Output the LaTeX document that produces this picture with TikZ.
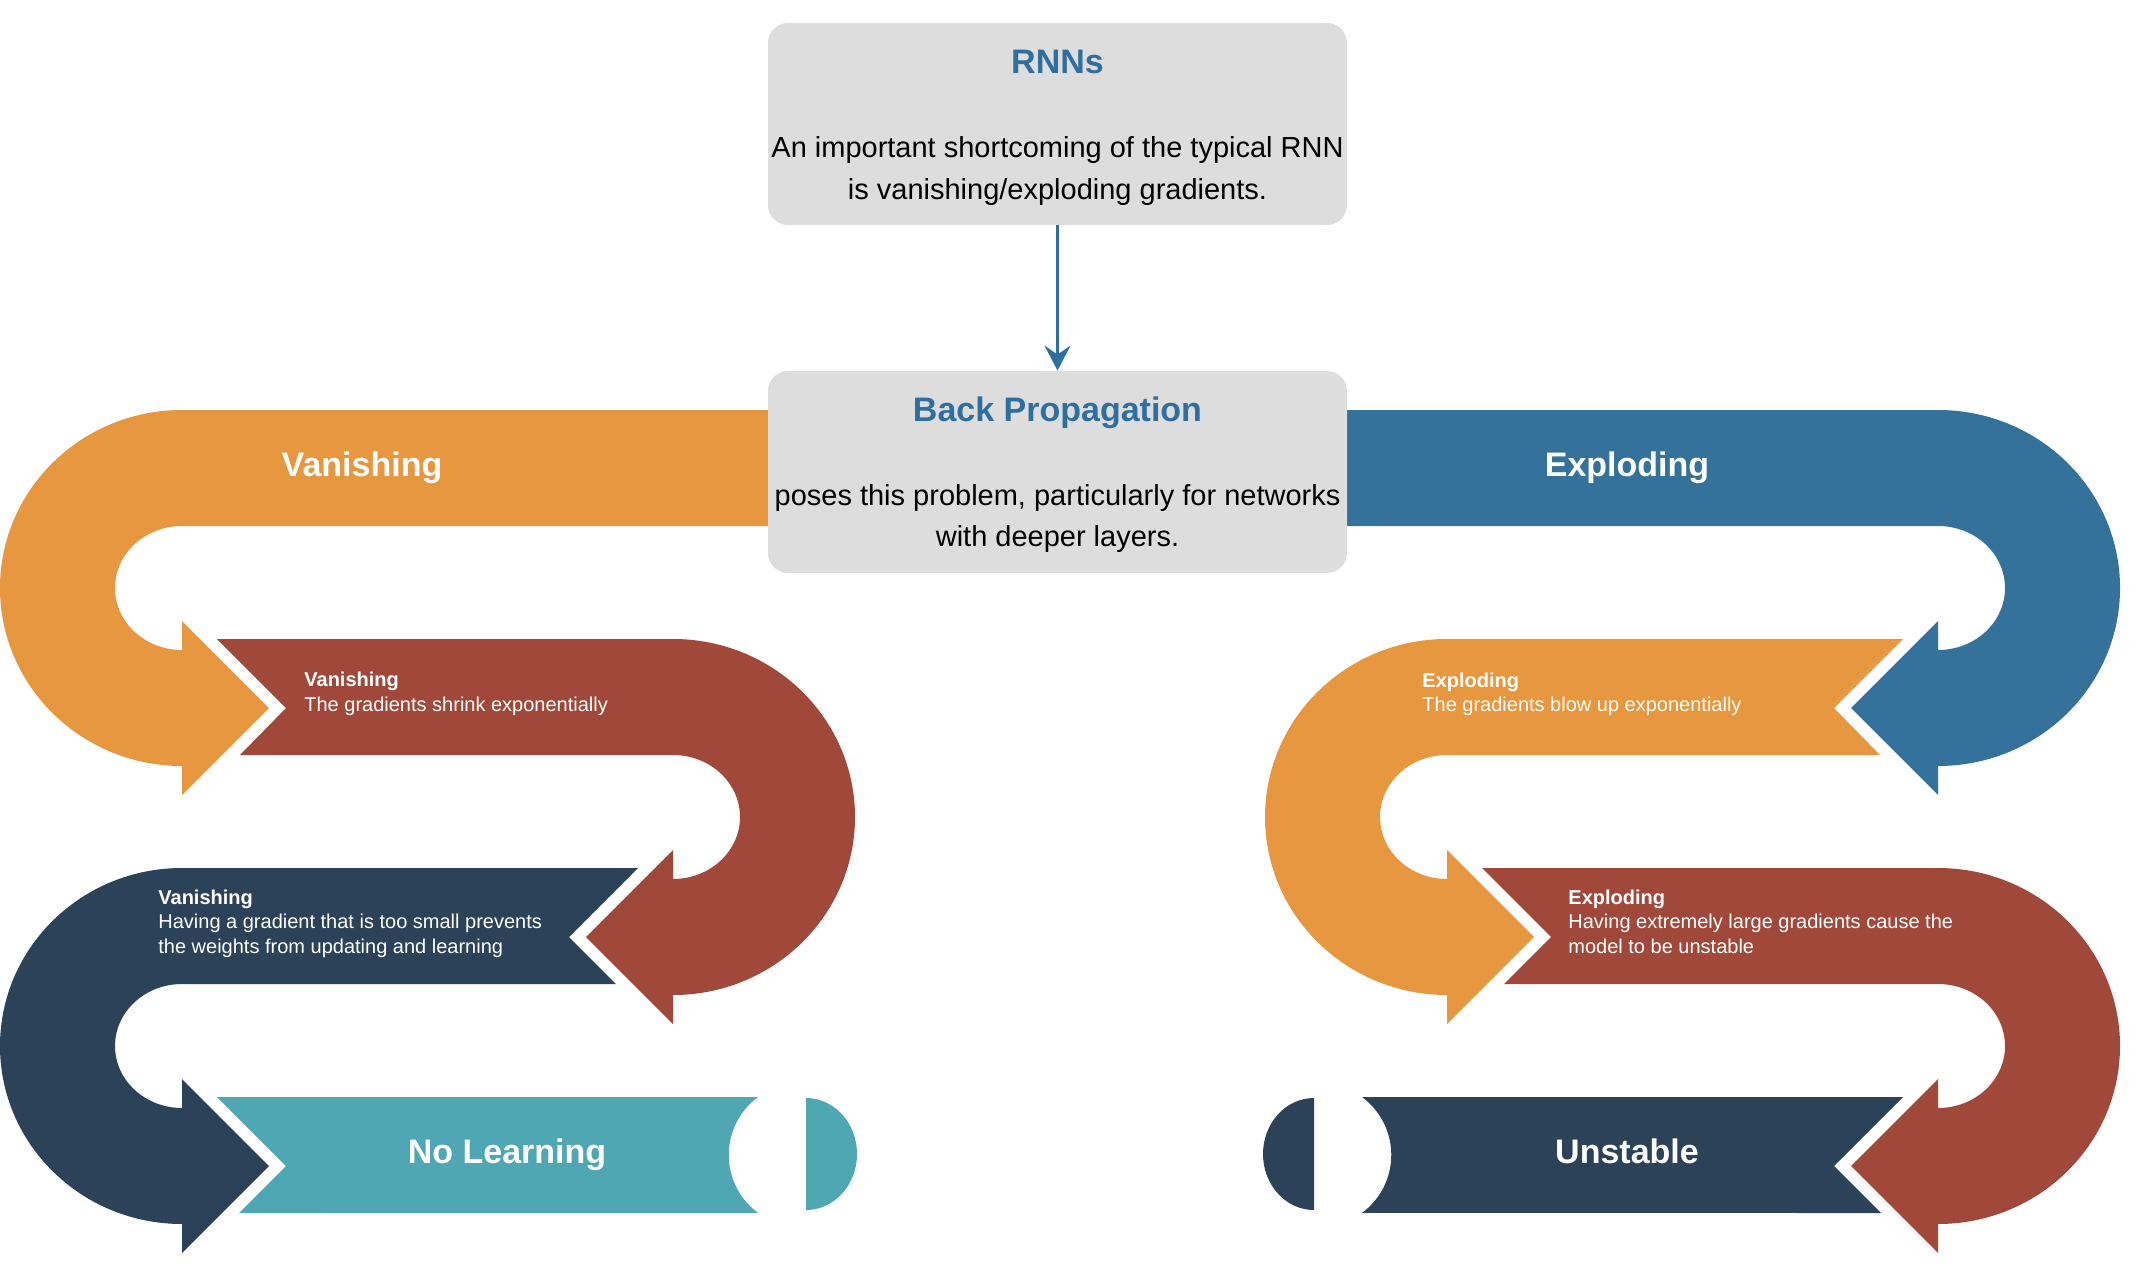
\documentclass[tikz,border=0pt]{standalone}
\usepackage{fontspec}
\setmainfont{Liberation Sans}
\usetikzlibrary{arrows.meta}

\definecolor{bandorange}{HTML}{E6973F}
\definecolor{bandbrown}{HTML}{A0493B}
\definecolor{bandnavy}{HTML}{2C4259}
\definecolor{bandteal}{HTML}{4FA7B3}
\definecolor{bandblue}{HTML}{34729C}
\definecolor{titleblue}{HTML}{2F6F9F}
\definecolor{panelgray}{HTML}{DDDDDD}

% multi-line nodes below are anchored at the baseline of their last line
\tikzset{
  bandlabel/.style={text=white, font=\fontsize{17}{20}\selectfont\bfseries, anchor=base, inner sep=0pt},
  boxtitle/.style={text=titleblue, font=\fontsize{17}{20}\selectfont\bfseries, anchor=base, inner sep=0pt},
  boxbody/.style={text=black, font=\fontsize{14.5}{20.6}\selectfont, align=center, anchor=base, inner sep=0pt},
  steptext/.style={text=white, font=\fontsize{10}{12.2}\selectfont, align=left, anchor=base west, inner sep=0pt},
  panel/.style={fill=panelgray, draw=none, rounded corners=10pt, minimum width=289.5pt, minimum height=101pt, inner sep=0pt},
  flow/.style={draw=titleblue, line width=1.3pt, -{Stealth[length=12.5pt,width=13pt,inset=4.5pt]}}
}

\begin{document}
\begin{tikzpicture}[x=0.5pt, y=-0.5pt]
\useasboundingbox (0,0) rectangle (2140,1268);

% ---------- left column: vanishing gradients ----------
\fill[bandorange] (800,410) -- (182,410)
  arc[start angle=270, end angle=90, x radius=182, y radius=178]
  -- (182,795) -- (269,708) -- (182,621) -- (182,650)
  arc[start angle=90, end angle=270, x radius=67, y radius=62]
  -- (800,526) -- cycle;

\fill[bandbrown] (217,639) -- (673,639)
  arc[start angle=-90, end angle=90, x radius=182, y radius=178]
  -- (673,1024) -- (586,937) -- (673,850) -- (673,879)
  arc[start angle=90, end angle=-90, x radius=67, y radius=62]
  -- (240,755) -- (286,708) -- cycle;

\fill[bandnavy] (638,868) -- (182,868)
  arc[start angle=270, end angle=90, x radius=182, y radius=178]
  -- (182,1253) -- (269,1166) -- (182,1079) -- (182,1108)
  arc[start angle=90, end angle=270, x radius=67, y radius=62]
  -- (616,984) -- (569,937) -- cycle;

\fill[bandteal] (217,1097) -- (758,1097)
  arc[start angle=233.6, end angle=126.4, radius=72]
  -- (239,1213) -- (286,1166) -- cycle;
\fill[bandteal] (806,1098)
  arc[start angle=-90, end angle=90, x radius=51, y radius=56] -- cycle;

% ---------- right column: exploding gradients ----------
\fill[bandblue] (1300,410) -- (1938,410)
  arc[start angle=-90, end angle=90, x radius=182, y radius=178]
  -- (1938,795) -- (1851,708) -- (1938,621) -- (1938,650)
  arc[start angle=90, end angle=-90, x radius=67, y radius=62]
  -- (1300,526) -- cycle;

\fill[bandorange] (1903,639) -- (1447,639)
  arc[start angle=270, end angle=90, x radius=182, y radius=178]
  -- (1447,1024) -- (1534,937) -- (1447,850) -- (1447,879)
  arc[start angle=90, end angle=270, x radius=67, y radius=62]
  -- (1880,755) -- (1834,708) -- cycle;

\fill[bandbrown] (1482,868) -- (1938,868)
  arc[start angle=-90, end angle=90, x radius=182, y radius=178]
  -- (1938,1253) -- (1851,1166) -- (1938,1079) -- (1938,1108)
  arc[start angle=90, end angle=-90, x radius=67, y radius=62]
  -- (1504,984) -- (1551,937) -- cycle;

\fill[bandnavy] (1903,1097) -- (1362,1097)
  arc[start angle=-53.6, end angle=53.6, radius=72]
  -- (1881,1213) -- (1834,1166) -- cycle;
\fill[bandnavy] (1314,1098)
  arc[start angle=270, end angle=90, x radius=51, y radius=56] -- cycle;

% ---------- central panels ----------
\node[panel] (rnn) at (1057.5,124) {};
\node[panel] (bp) at (1057.5,472) {};
\draw[flow] (rnn.south) -- (bp.north);

\node[boxtitle] (rnntitle) at (1057.5,73.5) {RNNs};
\node[boxbody] (rnnbody) at (1057.5,199)
  {An important shortcoming of the typical RNN\\is vanishing/exploding gradients.};
\node[boxtitle] (bptitle) at (1057.5,421) {Back Propagation};
\node[boxbody] (bpbody) at (1057.5,546.5)
  {poses this problem, particularly for networks\\with deeper layers.};

% ---------- band labels ----------
\node[bandlabel] (vanlabel) at (362,476) {Vanishing};
\node[bandlabel] (explabel) at (1627,476) {Exploding};
\node[bandlabel] (nolearn) at (507,1163) {No Learning};
\node[bandlabel] (unstable) at (1627,1163) {Unstable};

\node[steptext] (van1) at (304,711)
  {\textbf{Vanishing}\\The gradients shrink exponentially};
\node[steptext] (van2) at (158,953)
  {\textbf{Vanishing}\\Having a gradient that is too small prevents\\the weights from updating and learning};
\node[steptext] (exp1) at (1422,711.5)
  {\textbf{Exploding}\\The gradients blow up exponentially};
\node[steptext] (exp2) at (1568,953)
  {\textbf{Exploding}\\Having extremely large gradients cause the\\model to be unstable};
\end{tikzpicture}
\end{document}
